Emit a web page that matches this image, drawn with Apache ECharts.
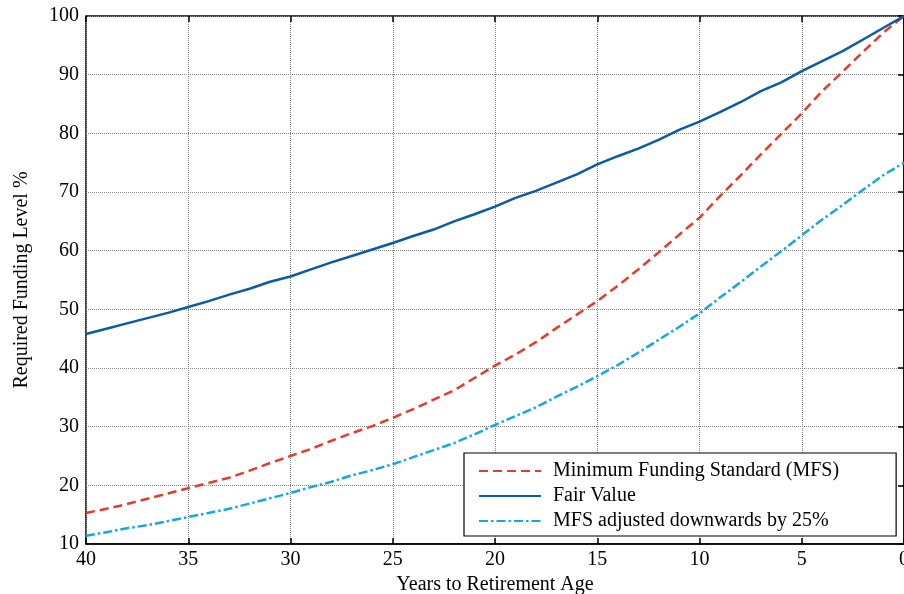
<!DOCTYPE html>
<html>
<head>
<meta charset="utf-8">
<script src="https://cdn.jsdelivr.net/npm/echarts@6/dist/echarts.min.js"></script>
<style>html,body{margin:0;padding:0;background:#fff}#c{width:904px;height:594px}</style>
</head>
<body>
<div id="c"></div>
<script>
var years = [40,39,38,37,36,35,34,33,32,31,30,29,28,27,26,25,24,23,22,21,20,19,18,17,16,15,14,13,12,11,10,9,8,7,6,5,4,3,2,1,0];
var mfs = [15.3,16.0,16.8,17.7,18.6,19.5,20.4,21.3,22.5,23.8,25.0,26.2,27.6,28.9,30.1,31.5,33.0,34.6,36.2,38.3,40.4,42.3,44.4,46.8,49.1,51.4,54.0,56.8,59.7,62.7,65.6,69.3,72.8,76.4,79.9,83.4,87.2,90.5,93.9,97.2,100];
var fairValue = [45.8,46.7,47.6,48.5,49.4,50.4,51.4,52.5,53.5,54.7,55.6,56.8,58.0,59.1,60.2,61.3,62.5,63.6,65.0,66.2,67.5,69.0,70.2,71.6,73.0,74.7,76.1,77.4,78.9,80.6,82.0,83.6,85.3,87.2,88.7,90.6,92.3,94.0,96.0,98.0,100];
var mfsAdj = [11.4,12.0,12.7,13.2,13.9,14.6,15.3,16.0,16.9,17.8,18.7,19.7,20.6,21.7,22.6,23.6,24.8,26.0,27.2,28.7,30.3,31.8,33.3,35.1,36.8,38.6,40.5,42.6,44.8,47.0,49.3,52.0,54.6,57.3,59.9,62.6,65.3,67.8,70.4,72.9,75];
var seriesNames = ['Minimum Funding Standard (MFS)','Fair Value','MFS adjusted downwards by 25%'];
var xTitle = 'Years to Retirement Age';
var yTitle = 'Required Funding Level %';

function pairs(v){ return years.map(function(y,i){ return [y, v[i]]; }); }
var font = 'Liberation Serif';
var chart = echarts.init(document.getElementById('c'));
chart.setOption({
  animation: false,
  backgroundColor: '#fff',
  textStyle: {fontFamily: font},
  grid: {left: 86, right: 0, top: 16, bottom: 50, show: true, borderColor: '#000', borderWidth: 1.5,
         containLabel: false, outerBoundsMode: 'none'},
  xAxis: [{
    type: 'value', min: 0, max: 40, interval: 5, inverse: true,
    name: xTitle, nameLocation: 'middle', nameGap: 28,
    nameTextStyle: {fontFamily: font, fontSize: 20, color: '#000'},
    axisLine: {lineStyle: {color: '#000', width: 1.5}},
    axisTick: {inside: true, length: 6, lineStyle: {color: '#000', width: 1.5}},
    axisLabel: {fontFamily: font, fontSize: 20, color: '#000', margin: 6},
    splitLine: {show: true, lineStyle: {color: '#888', type: [1,1], width: 1}}
  },{
    type: 'value', min: 0, max: 40, interval: 5, inverse: true, position: 'top',
    axisLine: {show: false},
    axisTick: {inside: true, length: 6, lineStyle: {color: '#000', width: 1.5}},
    axisLabel: {show: false}, splitLine: {show: false}
  }],
  yAxis: [{
    type: 'value', min: 10, max: 100, interval: 10,
    name: yTitle, nameLocation: 'middle', nameGap: 54,
    nameTextStyle: {fontFamily: font, fontSize: 20, color: '#000'},
    axisLine: {show: true, lineStyle: {color: '#000', width: 1.5}},
    axisTick: {show: true, inside: true, length: 6, lineStyle: {color: '#000', width: 1.5}},
    axisLabel: {fontFamily: font, fontSize: 20, color: '#000', margin: 7},
    splitLine: {show: true, lineStyle: {color: '#888', type: [1,1], width: 1}}
  },{
    type: 'value', min: 10, max: 100, interval: 10, position: 'right',
    axisLine: {show: false},
    axisTick: {show: true, inside: true, length: 6, lineStyle: {color: '#000', width: 1.5}},
    axisLabel: {show: false}, splitLine: {show: false}
  }],
  legend: {
    orient: 'vertical', left: 464, top: 453,
    backgroundColor: '#fff', borderColor: '#000', borderWidth: 1.2,
    padding: [8, 57, 5, 14], itemWidth: 62, itemHeight: 14, itemGap: 5,
    itemStyle: {opacity: 0},
    textStyle: {fontFamily: font, fontSize: 20, color: '#000', padding: [0,0,0,7]},
    data: seriesNames
  },
  series: [
    {name: seriesNames[0], type: 'line', data: pairs(mfs), symbol: 'none', smooth: false,
     lineStyle: {color: '#e53b2c', width: 2.5, type: [9,5]}, itemStyle: {color: '#e53b2c'}, z: 3},
    {name: seriesNames[1], type: 'line', data: pairs(fairValue), symbol: 'none',
     lineStyle: {color: '#0b5aa8', width: 2.5, type: 'solid'}, itemStyle: {color: '#0b5aa8'}, z: 4},
    {name: seriesNames[2], type: 'line', data: pairs(mfsAdj), symbol: 'none',
     lineStyle: {color: '#14a7e3', width: 2.5, type: [9,3,2.5,3]}, itemStyle: {color: '#14a7e3'}, z: 3}
  ]
});
</script>
</body>
</html>
